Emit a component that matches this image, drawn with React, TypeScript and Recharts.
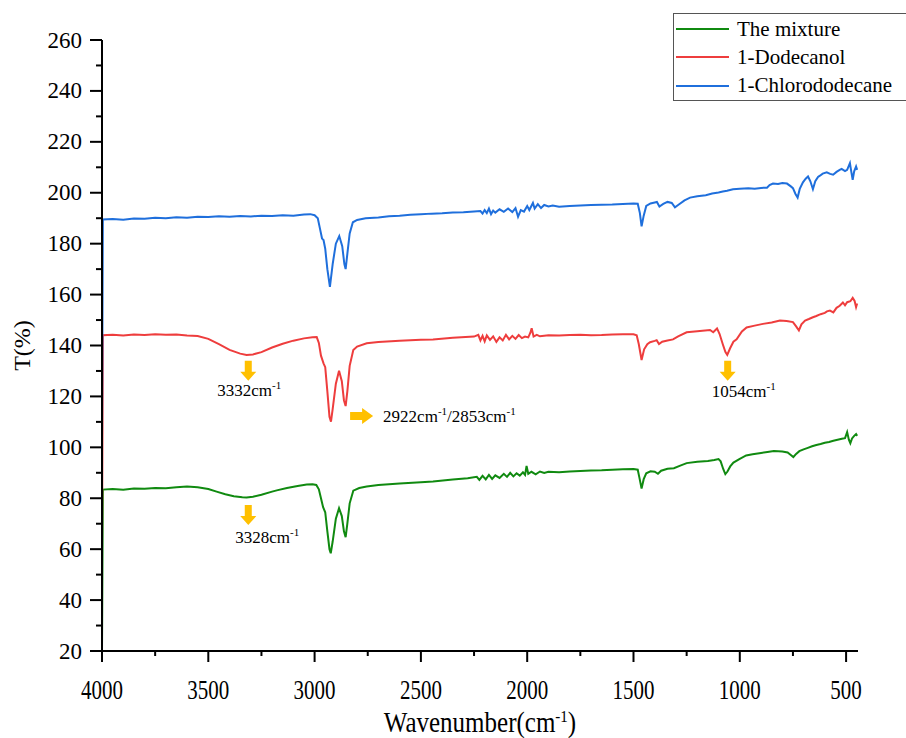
import React from 'react';
import {
  LineChart,
  Line,
  XAxis,
  YAxis,
  Legend,
  Label,
  ReferenceDot,
} from 'recharts';

// wavenumber (cm-1), transmittance (%)
const mixture: [number, number][] = [
  [4000, 20], [3996, 83.4], [3950, 83.6], [3900, 83.3], [3850, 83.8], [3800, 83.7],
  [3750, 84.0], [3700, 83.9], [3650, 84.3], [3600, 84.6], [3550, 84.3], [3500, 83.6],
  [3461, 82.6], [3420, 81.6], [3380, 80.8], [3340, 80.4], [3320, 80.3], [3290, 80.6],
  [3250, 81.4], [3200, 82.6], [3178, 83.1], [3130, 84.0], [3080, 84.8], [3037, 85.4],
  [3010, 85.5], [2992, 85.2], [2980, 83.5], [2970, 80], [2960, 76.5], [2950, 74.5],
  [2940, 67], [2930, 60], [2924, 58.4], [2915, 63], [2900, 72], [2885, 76.1],
  [2872, 73], [2862, 67], [2854, 64.7], [2846, 70], [2835, 78], [2818, 83.0],
  [2790, 84.0], [2755, 84.6], [2700, 85.2], [2600, 85.8], [2500, 86.3], [2443, 86.6],
  [2350, 87.4], [2280, 87.9], [2237, 88.4], [2225, 87.2], [2210, 88.8], [2195, 87.4],
  [2180, 89.2], [2165, 87.6], [2150, 89.0], [2130, 88.0], [2110, 89.6], [2095, 88.4],
  [2080, 90.0], [2065, 88.6], [2050, 89.8], [2035, 88.9], [2020, 90.2], [2010, 89.2],
  [2003, 92.7], [1995, 89.6], [1980, 90.4], [1960, 89.4], [1940, 90.5], [1920, 89.9],
  [1900, 90.4], [1850, 90.2], [1800, 90.5], [1750, 90.7], [1700, 90.9], [1650, 91.0],
  [1600, 91.2], [1550, 91.4], [1500, 91.5], [1480, 91.2], [1472, 88], [1462, 83.8],
  [1452, 87.5], [1440, 89.8], [1420, 90.6], [1400, 90.4], [1385, 89.6], [1370, 90.8],
  [1340, 91.6], [1310, 91.8], [1280, 92.8], [1250, 93.8], [1200, 94.3], [1150, 94.6],
  [1120, 95.0], [1100, 95.4], [1090, 94.5], [1078, 91.5], [1068, 89.5], [1058, 90.5],
  [1045, 92.5], [1030, 94.0], [1000, 95.5], [970, 96.8], [940, 97.3], [900, 97.8],
  [870, 98.2], [840, 98.6], [800, 98.4], [775, 98.0], [760, 97.0], [748, 96.2],
  [735, 97.4], [720, 98.5], [700, 99.2], [680, 99.8], [660, 100.4], [640, 100.9],
  [620, 101.3], [600, 101.8], [580, 102.1], [560, 102.6], [540, 103.0], [520, 103.4],
  [505, 103.6], [495, 106.0], [487, 103.0], [480, 101.6], [472, 103.5], [462, 104.5],
  [453, 105.2], [448, 104.5],
];

const dodecanol: [number, number][] = [
  [4000, 60], [3996, 144.0], [3950, 144.2], [3900, 143.9], [3850, 144.3], [3800, 144.1],
  [3750, 144.4], [3700, 144.2], [3650, 144.3], [3600, 143.9], [3550, 143.7], [3500, 142.6],
  [3450, 140.5], [3400, 138.3], [3350, 136.8], [3320, 136.3], [3290, 136.5], [3250, 137.4],
  [3200, 139.2], [3150, 140.7], [3100, 141.9], [3050, 142.8], [3010, 143.2], [2990, 143.3],
  [2980, 141], [2970, 136], [2958, 133], [2950, 131.5], [2940, 122], [2930, 112],
  [2923, 110.1], [2915, 115], [2900, 125], [2885, 130.1], [2872, 126], [2862, 118.5],
  [2854, 116.2], [2846, 122], [2835, 132], [2818, 138.2], [2800, 139.6], [2755, 140.9],
  [2700, 141.4], [2600, 141.9], [2500, 142.3], [2443, 142.4], [2350, 143.0], [2250, 143.5],
  [2230, 144.2], [2220, 142.0], [2210, 143.8], [2200, 141.6], [2190, 144.0], [2175, 142.2],
  [2160, 143.6], [2145, 141.4], [2130, 143.2], [2115, 142.0], [2100, 144.2], [2085, 142.4],
  [2070, 143.8], [2055, 142.6], [2040, 144.1], [2025, 142.9], [2010, 143.5], [1995, 143.2],
  [1985, 145.0], [1979, 146.8], [1970, 143.5], [1955, 144.2], [1940, 143.6], [1900, 144.0],
  [1850, 143.9], [1800, 144.1], [1750, 144.2], [1700, 144.0], [1650, 144.1], [1600, 144.3],
  [1550, 144.4], [1500, 144.4], [1485, 144.0], [1475, 140.5], [1462, 134.3], [1450, 138.5],
  [1435, 140.5], [1422, 141.3], [1400, 141.8], [1391, 142.1], [1380, 140.6], [1365, 141.5],
  [1340, 142.0], [1314, 142.4], [1290, 143.6], [1250, 145.2], [1200, 145.6], [1140, 146.1],
  [1125, 145.2], [1107, 146.7], [1095, 144.5], [1080, 140.5], [1068, 137.5], [1059, 136.3],
  [1045, 139.0], [1030, 141.5], [1015, 142.4], [990, 145.5], [968, 147.1], [930, 147.8],
  [891, 148.5], [850, 149.0], [811, 149.8], [780, 149.6], [750, 149.2], [735, 147.5],
  [722, 145.9], [710, 148.3], [693, 149.8], [675, 150.4], [656, 151.1], [640, 151.6],
  [620, 152.3], [600, 152.8], [590, 153.4], [576, 153.7], [560, 153.0], [545, 154.8],
  [530, 155.6], [515, 156.9], [505, 155.8], [495, 157.0], [480, 157.4], [469, 158.7],
  [460, 157.5], [453, 155.1], [448, 156.5],
];

const chlorododecane: [number, number][] = [
  [4000, 104], [3996, 189.5], [3950, 189.7], [3900, 189.4], [3850, 189.9], [3800, 189.8],
  [3750, 190.2], [3700, 190.0], [3650, 190.4], [3600, 190.2], [3550, 190.6], [3500, 190.5],
  [3450, 190.8], [3400, 190.6], [3350, 190.9], [3300, 190.7], [3250, 191.0], [3200, 190.9],
  [3150, 191.2], [3100, 191.0], [3050, 191.5], [3020, 191.6], [3000, 191.2], [2985, 190.0],
  [2975, 186], [2965, 182], [2958, 181.4], [2950, 178], [2940, 170], [2928, 163],
  [2915, 172], [2900, 180], [2884, 183], [2870, 179], [2860, 172], [2854, 170],
  [2846, 176], [2835, 184], [2820, 188.4], [2800, 189.3], [2760, 190.0], [2700, 190.3],
  [2650, 190.8], [2600, 191.0], [2550, 191.4], [2500, 191.6], [2450, 191.8], [2400, 191.9],
  [2350, 192.2], [2300, 192.3], [2250, 192.6], [2220, 192.8], [2210, 191.8], [2200, 193.2],
  [2190, 192.0], [2180, 193.8], [2170, 191.6], [2160, 193.0], [2150, 192.2], [2130, 193.5],
  [2110, 192.5], [2090, 193.8], [2070, 192.4], [2055, 194.0], [2043, 190.6], [2030, 193.2],
  [2015, 192.6], [2000, 194.8], [1990, 193.2], [1973, 196.0], [1965, 193.8], [1950, 195.5],
  [1935, 194.0], [1920, 195.2], [1900, 194.6], [1880, 195.0], [1850, 194.5], [1800, 194.8],
  [1750, 195.0], [1700, 195.2], [1650, 195.3], [1600, 195.4], [1550, 195.6], [1500, 195.8],
  [1480, 195.7], [1470, 192], [1462, 186.8], [1452, 191], [1440, 194.8], [1420, 195.8],
  [1400, 196.2], [1390, 196.4], [1378, 194.6], [1360, 195.6], [1340, 196.4], [1320, 196.0],
  [1305, 194.3], [1290, 195.2], [1260, 197.0], [1234, 198.1], [1200, 198.6], [1160, 199.0],
  [1130, 199.7], [1100, 200.1], [1080, 200.5], [1060, 200.8], [1032, 201.4], [1000, 201.6],
  [960, 201.8], [930, 201.6], [900, 201.9], [872, 202.0], [860, 203.0], [844, 203.6],
  [820, 203.4], [800, 203.8], [778, 203.6], [760, 202.5], [750, 201.8], [738, 199.5],
  [728, 198.1], [718, 201.5], [703, 204.1], [690, 205.5], [679, 206.4], [668, 204.5],
  [656, 201.4], [645, 204.5], [632, 206.2], [623, 206.7], [610, 207.5], [591, 208.0],
  [575, 207.4], [561, 207.1], [545, 208.2], [530, 209.0], [521, 209.4], [505, 208.5],
  [495, 209.0], [482, 211.6], [475, 208.0], [469, 205.1], [462, 208.4], [453, 210.3],
  [448, 209.0],
];

const xTicks = [4000, 3750, 3500, 3250, 3000, 2750, 2500, 2250, 2000, 1750, 1500, 1250, 1000, 750, 500];
const yTicks = [20, 30, 40, 50, 60, 70, 80, 90, 100, 110, 120, 130, 140, 150, 160, 170, 180, 190, 200, 210, 220, 230, 240, 250, 260];
const legendOrder = ['The mixture', '1-Dodecanol', '1-Chlorododecane'];

// peak labels: anchor (wavenumber, T), arrow direction, label text
const peaks = [
  { wn: 3312, t: 134.0, dir: 'down', text: '3332cm', dx: 1, dy: 35 },
  { wn: 3312, t: 77.3, dir: 'down', text: '3328cm', dx: 19, dy: 38 },
  { wn: 2833, t: 112.3, dir: 'right', text: '2922cm', text2: '/2853cm', dx: 33, dy: 6 },
  { wn: 1057, t: 134.0, dir: 'down', text: '1054cm', dx: 16, dy: 36 },
];

const toPoints = (pairs: [number, number][]) => pairs.map(([wn, t]) => ({ wn, t }));

const serif = 'Liberation Serif';
const arrowColor = '#FFC000';

const XTick = (props: any) => {
  const { x, y, payload } = props;
  const major = payload.value % 500 === 0;
  return (
    <g>
      <line x1={x} x2={x} y1={y} y2={y + (major ? 11 : 5)} stroke="#000" strokeWidth={2} />
      {major && (
        <text
          transform={`translate(${x},${y + 48}) scale(1,1.35)`}
          textAnchor="middle"
          fontSize={21}
          fontFamily={serif}
          fill="#000"
        >
          {payload.value}
        </text>
      )}
    </g>
  );
};

const YTick = (props: any) => {
  const { x, y, payload } = props;
  const major = payload.value % 20 === 0;
  return (
    <g>
      <line x1={x - (major ? 12 : 6)} x2={x} y1={y} y2={y} stroke="#000" strokeWidth={2} />
      {major && (
        <text x={x - 20} y={y} textAnchor="end" dominantBaseline="central" fontSize={23} fontFamily={serif} fill="#000">
          {payload.value}
        </text>
      )}
    </g>
  );
};

const XTitle = (props: any) => {
  const { x, y, width } = props.viewBox;
  return (
    <text
      transform={`translate(${x + width / 2},${y + 81}) scale(1,1.15)`}
      textAnchor="middle"
      fontSize={25}
      fontFamily={serif}
      fill="#000"
    >
      <tspan>Wavenumber(cm</tspan>
      <tspan dy={-9} fontSize={15}>-1</tspan>
      <tspan dy={9}>)</tspan>
    </text>
  );
};

const YTitle = (props: any) => {
  const { y, height } = props.viewBox;
  const cy = y + height / 2;
  return (
    <text x={22} y={cy} transform={`rotate(-90 22 ${cy})`} textAnchor="middle" dominantBaseline="central" fontSize={24} fontFamily={serif} fill="#000">
      T(%)
    </text>
  );
};

const PeakMark = (props: any) => {
  const { cx, cy, peak } = props;
  if (cx == null || cy == null) return null;
  if (peak.dir === 'right') {
    return (
      <g>
        <polygon
          points={`${cx},${cy - 4} ${cx + 12},${cy - 4} ${cx + 12},${cy - 8} ${cx + 23},${cy} ${cx + 12},${cy + 8} ${cx + 12},${cy + 4} ${cx},${cy + 4}`}
          fill={arrowColor}
        />
        <text x={cx + peak.dx} y={cy + peak.dy} fontSize={17} fontFamily={serif} fill="#000">
          <tspan>{peak.text}</tspan>
          <tspan dy={-7} fontSize={11}>-1</tspan>
          <tspan dy={7}>{peak.text2}</tspan>
          <tspan dy={-7} fontSize={11}>-1</tspan>
        </text>
      </g>
    );
  }
  return (
    <g>
      <polygon
        points={`${cx - 3.5},${cy} ${cx + 3.5},${cy} ${cx + 3.5},${cy + 11} ${cx + 8},${cy + 11} ${cx},${cy + 20} ${cx - 8},${cy + 11} ${cx - 3.5},${cy + 11}`}
        fill={arrowColor}
      />
      <text x={cx + peak.dx} y={cy + peak.dy} textAnchor="middle" fontSize={17} fontFamily={serif} fill="#000">
        <tspan>{peak.text}</tspan>
        <tspan dy={-7} fontSize={11}>-1</tspan>
      </text>
    </g>
  );
};

const renderLegend = (props: any) => {
  const items = [...(props.payload || [])].sort(
    (a: any, b: any) => legendOrder.indexOf(a.value) - legendOrder.indexOf(b.value)
  );
  return (
    <div
      style={{
        width: 240,
        height: 88,
        border: '1px solid #555',
        boxSizing: 'border-box',
        background: '#fff',
        paddingTop: 1,
        fontFamily: serif,
        fontSize: 21,
        color: '#000',
      }}
    >
      {items.map((entry: any) => (
        <div key={entry.value} style={{ display: 'flex', alignItems: 'center', height: 28.3 }}>
          <span
            style={{
              display: 'inline-block',
              width: 53,
              height: 0,
              borderTop: `2.5px solid ${entry.color}`,
              marginLeft: 2,
              marginRight: 8,
            }}
          />
          <span style={{ whiteSpace: 'nowrap' }}>{entry.value}</span>
        </div>
      ))}
    </div>
  );
};

const App: React.FC = () => {
  return (
    <div style={{ position: 'absolute', left: 0, top: 0, width: 906, height: 738, background: '#fff', overflow: 'hidden' }}>
      <LineChart width={906} height={738} margin={{ top: 40, right: 48, bottom: 0, left: 0 }}>
        <XAxis
          type="number"
          dataKey="wn"
          domain={[444, 4000]}
          reversed
          ticks={xTicks}
          interval={0}
          height={87}
          tickSize={0}
          tickMargin={0}
          tickLine={false}
          axisLine={{ stroke: '#000', strokeWidth: 2 }}
          tick={<XTick />}
        >
          <Label content={<XTitle />} />
        </XAxis>
        <YAxis
          type="number"
          domain={[20, 260]}
          ticks={yTicks}
          interval={0}
          width={102}
          tickSize={0}
          tickMargin={0}
          tickLine={false}
          axisLine={{ stroke: '#000', strokeWidth: 2 }}
          tick={<YTick />}
        >
          <Label content={<YTitle />} />
        </YAxis>
        <Legend
          layout="vertical"
          align="center"
          verticalAlign="middle"
          content={renderLegend}
          wrapperStyle={{ left: 673, top: 13, width: 240, height: 88 }}
        />
        <Line
          data={toPoints(mixture)}
          dataKey="t"
          name="The mixture"
          stroke="#108a10"
          strokeWidth={2}
          dot={false}
          isAnimationActive={false}
        />
        <Line
          data={toPoints(dodecanol)}
          dataKey="t"
          name="1-Dodecanol"
          stroke="#ee3d3d"
          strokeWidth={2}
          dot={false}
          isAnimationActive={false}
        />
        <Line
          data={toPoints(chlorododecane)}
          dataKey="t"
          name="1-Chlorododecane"
          stroke="#1f6fdc"
          strokeWidth={2}
          dot={false}
          isAnimationActive={false}
        />
        {peaks.map((p) => (
          <ReferenceDot
            key={`${p.wn}-${p.t}`}
            x={p.wn}
            y={p.t}
            r={0}
            ifOverflow="visible"
            shape={(props: any) => <PeakMark {...props} peak={p} />}
          />
        ))}
      </LineChart>
    </div>
  );
};

export default App;
